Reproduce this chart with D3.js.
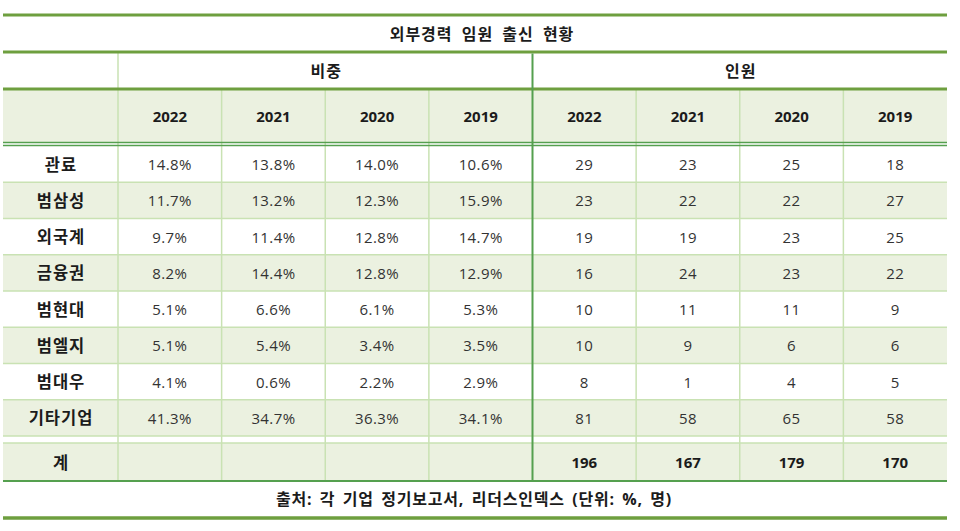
<!DOCTYPE html>
<html><head><meta charset="utf-8">
<script src="https://cdn.jsdelivr.net/npm/d3@7"></script>
<style>
html,body{margin:0;padding:0;background:#fff;}
svg{display:block;font-family:"Open Sans","Noto Sans CJK KR","Noto Sans",sans-serif;}
</style></head>
<body>
<svg id="chart" width="960" height="531"></svg>
<script>
const title = "외부경력 임원 출신 현황";
const source = "출처: 각 기업 정기보고서, 리더스인덱스 (단위: %, 명)";
const groups = ["비중", "인원"];
const years = ["2022", "2021", "2020", "2019"];
const categories = ["관료", "범삼성", "외국계", "금융권", "범현대", "범엘지", "범대우", "기타기업"];
const share2022 = ["14.8%", "11.7%", "9.7%", "8.2%", "5.1%", "5.1%", "4.1%", "41.3%"];
const share2021 = ["13.8%", "13.2%", "11.4%", "14.4%", "6.6%", "5.4%", "0.6%", "34.7%"];
const share2020 = ["14.0%", "12.3%", "12.8%", "12.8%", "6.1%", "3.4%", "2.2%", "36.3%"];
const share2019 = ["10.6%", "15.9%", "14.7%", "12.9%", "5.3%", "3.5%", "2.9%", "34.1%"];
const count2022 = [29, 23, 19, 16, 10, 10, 8, 81];
const count2021 = [23, 22, 19, 24, 11, 9, 1, 58];
const count2020 = [25, 22, 23, 23, 11, 6, 4, 65];
const count2019 = [18, 27, 25, 22, 9, 6, 5, 58];
const totalLabel = "계";
const totals = ["", "", "", "", 196, 167, 179, 170];

const svg = d3.select("#chart");
const C = {thick:"#6e9f3f", div:"#55a04f", light:"#c9e2b3", fill:"#ebf1e0", text:"#1b1b1b", data:"#333"};
const L = 3, R = 947, labelW = 118;
const cols = d3.range(8);
const x = d3.scaleBand().domain(cols).range([labelW, R]);
const y = d3.scaleBand().domain(categories).range([146, 436]);
const yTitle = [15, 52], yGroup = [52, 89], yYear = [89, 142], yTot = [443, 481], ySrc = [481, 518];

const seriesByCol = [share2022, share2021, share2020, share2019, count2022, count2021, count2020, count2019];

// fills
svg.append("rect").attr("x", L).attr("y", yYear[0]).attr("width", R - L).attr("height", yYear[1] - yYear[0]).attr("fill", C.fill);
categories.forEach((c, i) => {
  if (i % 2 === 1) svg.append("rect").attr("x", L).attr("y", y(c)).attr("width", R - L).attr("height", y.bandwidth()).attr("fill", C.fill);
});
svg.append("rect").attr("x", L).attr("y", yTot[0]).attr("width", R - L).attr("height", yTot[1] - yTot[0]).attr("fill", C.fill);

function hline(yy, col, w, x1 = L, x2 = R) {
  svg.append("line").attr("x1", x1).attr("x2", x2).attr("y1", yy).attr("y2", yy).attr("stroke", col).attr("stroke-width", w);
}
function vline(xx, y1, y2, col, w) {
  svg.append("line").attr("x1", xx).attr("x2", xx).attr("y1", y1).attr("y2", y2).attr("stroke", col).attr("stroke-width", w);
}
// light grid
categories.forEach((c, i) => { if (i > 0) hline(y(c), C.light, 1.5); });
hline(436, C.light, 1.5);
hline(443, C.light, 1.5);
vline(labelW, yGroup[0], yTot[1], C.light, 1.5);
cols.forEach(i => { if (i > 0 && i !== 4) vline(x(i), yYear[0], yTot[1], C.light, 1.5); });
// strong lines
hline(yTitle[0], C.thick, 3);
hline(yGroup[0], C.thick, 3);
hline(yGroup[1], C.thick, 3);
hline(142.5, C.div, 1.5);
hline(145.5, C.div, 1.5);
hline(yTot[1], C.div, 2);
hline(ySrc[1], C.thick, 3.5);
vline(x(4), yGroup[0] + 1.5, yTot[1], C.div, 2);

function txt(s, xx, yy, opts = {}) {
  svg.append("text").attr("x", xx).attr("y", yy).attr("text-anchor", "middle").attr("dominant-baseline", "central")
    .attr("font-size", opts.size || 15).attr("font-weight", opts.bold ? 700 : 400).attr("fill", opts.color || C.text)
    .attr("letter-spacing", opts.ls || 0).attr("word-spacing", opts.ws || 0).text(s);
}
const K = {bold: true, size: 16, ls: 1, ws: 4};
txt(title, 482, 33.5, K);
txt(groups[0], (x(0) + x(4)) / 2 + 1, 70.5, K);
txt(groups[1], (x(4) + R) / 2 + 1, 70.5, K);
cols.forEach(i => txt(years[i % 4], x(i) + x.bandwidth() / 2, 116, {bold: true, size: 15}));
categories.forEach((c, r) => {
  const cy = y(c) + y.bandwidth() / 2;
  txt(c, (L + labelW) / 2 + 0.5, cy, {bold: true, size: 16.5, ls: 1});
  cols.forEach(i => txt(seriesByCol[i][r], x(i) + x.bandwidth() / 2, cy, {size: 15, color: C.data, ls: 0.4}));
});
txt(totalLabel, (L + labelW) / 2 + 0.5, 462, {bold: true, size: 16.5, ls: 1});
cols.forEach(i => txt(totals[i], x(i) + x.bandwidth() / 2, 462, {bold: true, size: 15}));
txt(source, 474, 499, {bold: true, size: 16, ls: 0.8, ws: 2.5});
</script>
</body></html>
